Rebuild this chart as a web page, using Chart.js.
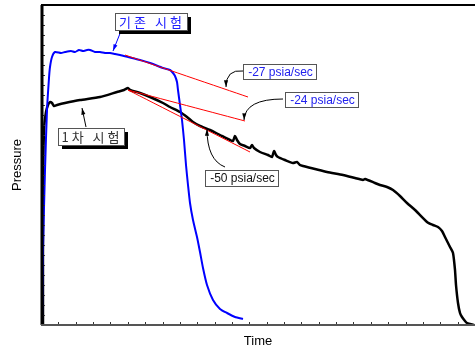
<!DOCTYPE html>
<html>
<head>
<meta charset="utf-8">
<script src="https://cdn.jsdelivr.net/npm/chart.js@4.4.1/dist/chart.umd.min.js"></script>
<style>
  html, body { margin: 0; padding: 0; background: #fff; }
  #wrap { width: 475px; height: 351px; }
</style>
</head>
<body>
<div id="wrap"><canvas id="chart"></canvas></div>
<script>
// time / pressure readings (arbitrary units, no tick labels on the original)
var blueT = [1, 2, 4, 6, 8, 9, 11, 14, 20, 24, 30, 34, 38, 42, 46, 49, 54, 59, 64, 69, 74, 79, 87, 99, 109, 122, 129, 132, 134, 136, 137, 139, 141, 143, 145, 147, 149, 152, 156, 159, 162, 166, 172, 179, 186, 194, 202];
var blueP = [0, 75, 155, 215, 247, 258, 268, 273, 272, 273, 274, 273, 275, 274, 275, 275, 273, 273, 272, 272, 271, 270, 268, 265, 262, 257, 255, 252, 249, 243, 235, 220, 205, 185, 160, 140, 122, 105, 88, 73, 57, 40, 25, 16, 12, 8, 6];

var blackT = [2, 2, 3, 5, 7, 9, 11, 13, 16, 24, 39, 59, 76, 83, 87, 89, 99, 109, 122, 129, 139, 146, 152, 159, 169, 179, 189, 192, 194, 196, 199, 204, 209, 211, 213, 219, 227, 231, 233, 235, 237, 244, 252, 256, 259, 262, 274, 286, 302, 314, 322, 324, 334, 339, 346, 352, 359, 366, 374, 386, 392, 397, 401, 404, 409, 412, 414, 415, 417, 419, 421, 424, 426, 429, 433];
var blackP = [0, 125, 195, 213, 220, 223, 222, 219, 220, 222, 225, 228, 233, 235, 237, 235, 232, 228, 222, 218, 213, 208, 203, 199, 195, 190, 185, 184, 189, 185, 181, 179, 177, 180, 177, 173, 170, 168, 174, 170, 168, 165, 162, 163, 160, 159, 156, 153, 150, 147, 145, 146, 142, 140, 138, 135, 129, 122, 115, 103, 100, 98, 94, 88, 78, 72, 55, 40, 22, 12, 8, 4, 2, 1, 0];

// fitted slopes: [t0, p0, t1, p1]
var fit27 = [84, 270, 207, 228];
var fit24 = [87, 235, 204, 204];
var fit50 = [87, 235, 209, 173];

var labelBase = '기존 시험';
var labelFirst = '1차 시험';
var rateLabels = ['-27 psia/sec', '-24 psia/sec', '-50 psia/sec'];

function pts(t, p) {
  return t.map(function (v, i) { return { x: v, y: p[i] }; });
}
function seg(f) {
  return [{ x: f[0], y: f[1] }, { x: f[2], y: f[3] }];
}

function arrow(ctx, pts2, color, curved) {
  ctx.save();
  ctx.strokeStyle = color;
  ctx.fillStyle = color;
  ctx.lineWidth = 1;
  ctx.beginPath();
  ctx.moveTo(pts2[0][0], pts2[0][1]);
  var from;
  if (curved) {
    ctx.quadraticCurveTo(pts2[1][0], pts2[1][1], pts2[2][0], pts2[2][1]);
    from = pts2[1];
  } else {
    ctx.lineTo(pts2[1][0], pts2[1][1]);
    from = pts2[0];
  }
  ctx.stroke();
  var end = pts2[pts2.length - 1];
  var a = Math.atan2(end[1] - from[1], end[0] - from[0]);
  ctx.beginPath();
  ctx.moveTo(end[0], end[1]);
  ctx.lineTo(end[0] - 7 * Math.cos(a - 0.3), end[1] - 7 * Math.sin(a - 0.3));
  ctx.lineTo(end[0] - 7 * Math.cos(a + 0.3), end[1] - 7 * Math.sin(a + 0.3));
  ctx.closePath();
  ctx.fill();
  ctx.restore();
}

function box(ctx, x1, y1, x2, y2, text, color, font, shadow, spacing) {
  ctx.save();
  if (shadow) {
    ctx.fillStyle = '#000';
    ctx.fillRect(x1 + 4, y1 + 4, x2 - x1, y2 - y1);
  }
  ctx.fillStyle = '#fff';
  ctx.fillRect(x1, y1, x2 - x1, y2 - y1);
  ctx.strokeStyle = '#555';
  ctx.lineWidth = 1;
  ctx.strokeRect(x1 + 0.5, y1 + 0.5, x2 - x1, y2 - y1);
  ctx.fillStyle = color;
  ctx.font = font;
  ctx.letterSpacing = spacing || '0px';
  ctx.textAlign = 'center';
  ctx.textBaseline = 'middle';
  ctx.fillText(text, (x1 + x2) / 2 + 1, (y1 + y2) / 2 + 1);
  ctx.restore();
}

var decor = {
  id: 'decor',
  afterDatasetsDraw: function (chart) {
    var ctx = chart.ctx, a = chart.chartArea;
    var xs = chart.scales.x, ys = chart.scales.y;
    var X = function (v) { return xs.getPixelForValue(v); };
    var Y = function (v) { return ys.getPixelForValue(v); };
    ctx.save();
    // inner ticks
    ctx.strokeStyle = '#333';
    ctx.lineWidth = 1;
    xs.ticks.forEach(function (t) {
      var px = Math.round(X(t.value)) + 0.5;
      ctx.beginPath(); ctx.moveTo(px, a.bottom); ctx.lineTo(px, a.bottom - 3); ctx.stroke();
    });
    ys.ticks.forEach(function (t) {
      var py = Math.round(Y(t.value)) + 0.5;
      ctx.beginPath(); ctx.moveTo(a.left, py); ctx.lineTo(a.left + 4, py); ctx.stroke();
    });
    // frame
    ctx.strokeStyle = '#000';
    ctx.lineWidth = 2;
    ctx.beginPath(); ctx.moveTo(a.left, a.top); ctx.lineTo(a.right, a.top); ctx.stroke();
    ctx.lineWidth = 3;
    ctx.beginPath(); ctx.moveTo(a.left + 1, a.top); ctx.lineTo(a.left + 1, a.bottom); ctx.stroke();
    ctx.strokeStyle = '#555';
    ctx.lineWidth = 2;
    ctx.beginPath(); ctx.moveTo(a.left, a.bottom); ctx.lineTo(a.right, a.bottom); ctx.stroke();
    ctx.restore();

    // callouts
    arrow(ctx, [[X(80), Y(294)], [X(72), Y(274)]], '#0000ff', false);
    box(ctx, X(74), Y(312), X(146), Y(295), labelBase, '#2020ff', '13px "Noto Sans CJK KR"', true, '3px');
    arrow(ctx, [[X(45), Y(198)], [X(41), Y(217)]], '#000', false);
    box(ctx, X(17), Y(197), X(83), Y(180), labelFirst, '#333', '13px "Noto Sans CJK KR"', true, '3px');

    arrow(ctx, [[X(202), Y(254)], [X(185), Y(256)], [X(185), Y(238)]], '#000', true);
    box(ctx, X(202), Y(261), X(275), Y(246), rateLabels[0], '#2222ee', '12px "Liberation Sans"', false);
    arrow(ctx, [[X(242), Y(226)], [X(204), Y(226)], [X(203), Y(205)]], '#000', true);
    box(ctx, X(244), Y(233), X(317), Y(218), rateLabels[1], '#2222ee', '12px "Liberation Sans"', false);
    arrow(ctx, [[X(184), Y(158)], [X(166), Y(165)], [X(166), Y(196)]], '#000', true);
    box(ctx, X(164), Y(155), X(237), Y(139), rateLabels[2], '#111', '12px "Liberation Sans"', false);
  }
};

new Chart(document.getElementById('chart'), {
  type: 'line',
  data: {
    datasets: [
      { data: pts(blackT, blackP), borderColor: '#000', borderWidth: 2.5, order: 3 },
      { data: pts(blueT, blueP), borderColor: '#0000ff', borderWidth: 2, order: 2 },
      { data: seg(fit27), borderColor: '#ff0000', borderWidth: 1, order: 1 },
      { data: seg(fit24), borderColor: '#ff0000', borderWidth: 1, order: 1 },
      { data: seg(fit50), borderColor: '#ff0000', borderWidth: 1, order: 1 }
    ]
  },
  options: {
    responsive: true,
    maintainAspectRatio: false,
    animation: false,
    parsing: true,
    elements: { point: { radius: 0 }, line: { tension: 0.2, fill: false } },
    layout: { padding: { top: 5, right: 0, left: 0, bottom: 0 } },
    plugins: { legend: { display: false }, tooltip: { enabled: false } },
    scales: {
      x: {
        type: 'linear', min: 0, max: 434,
        ticks: { display: false, stepSize: 17.36 },
        grid: { display: false }, border: { display: false },
        title: { display: true, text: 'Time', color: '#000', font: { family: 'Liberation Sans', size: 13 }, padding: { top: 1, bottom: 2 } },
        afterFit: function (s) { s.height = 26; }
      },
      y: {
        min: 0, max: 320,
        ticks: { display: false, stepSize: 10 },
        grid: { display: false }, border: { display: false },
        title: { display: true, text: 'Pressure', color: '#000', font: { family: 'Liberation Sans', size: 13 }, padding: { top: 10, bottom: 2 } },
        afterFit: function (s) { s.width = 41; }
      }
    }
  },
  plugins: [decor]
});
</script>
</body>
</html>
